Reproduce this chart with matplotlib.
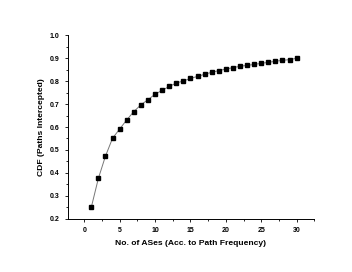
import matplotlib
matplotlib.use("Agg")
import matplotlib.pyplot as plt
from matplotlib.ticker import MultipleLocator

x_vals = list(range(1, 31))
cdf_vals = [0.25, 0.376, 0.473, 0.551, 0.591, 0.631, 0.667, 0.697, 0.719, 0.743,
            0.760, 0.777, 0.792, 0.801, 0.812, 0.821, 0.830, 0.839, 0.846, 0.853,
            0.859, 0.865, 0.869, 0.873, 0.878, 0.882, 0.887, 0.891, 0.894, 0.900]
xlabel = "No. of ASes (Acc. to Path Frequency)"
ylabel = "CDF (Paths Intercepted)"

plt.rcParams['font.family'] = ['Liberation Sans', 'DejaVu Sans']
fig = plt.figure(figsize=(3.52, 2.72), dpi=100)
ax = fig.add_axes([0.192, 0.196, 0.701, 0.674])
ax.plot(x_vals, cdf_vals, color='#777777', lw=0.7, marker='s', markersize=3.4,
        markerfacecolor='black', markeredgecolor='black')
ax.set_xlim(-2.35, 32.5)
ax.set_ylim(0.2, 1.0)
ax.xaxis.set_major_locator(MultipleLocator(5))
ax.xaxis.set_minor_locator(MultipleLocator(2.5))
ax.yaxis.set_major_locator(MultipleLocator(0.1))
ax.yaxis.set_minor_locator(MultipleLocator(0.05))
for s in ['top', 'right']:
    ax.spines[s].set_visible(False)
for s in ['left', 'bottom']:
    ax.spines[s].set_linewidth(0.7)
ax.tick_params(which='both', direction='out', width=0.6, labelsize=5)
ax.tick_params(which='major', length=2.5)
ax.tick_params(which='minor', length=1.5)
for lab in ax.get_xticklabels() + ax.get_yticklabels():
    lab.set_fontweight('bold')
ax.set_xlabel(xlabel, fontsize=6.1, fontweight='bold', labelpad=4)
ax.set_ylabel(ylabel, fontsize=6.1, fontweight='bold', labelpad=3)
fig.savefig("out.png", dpi=100)
